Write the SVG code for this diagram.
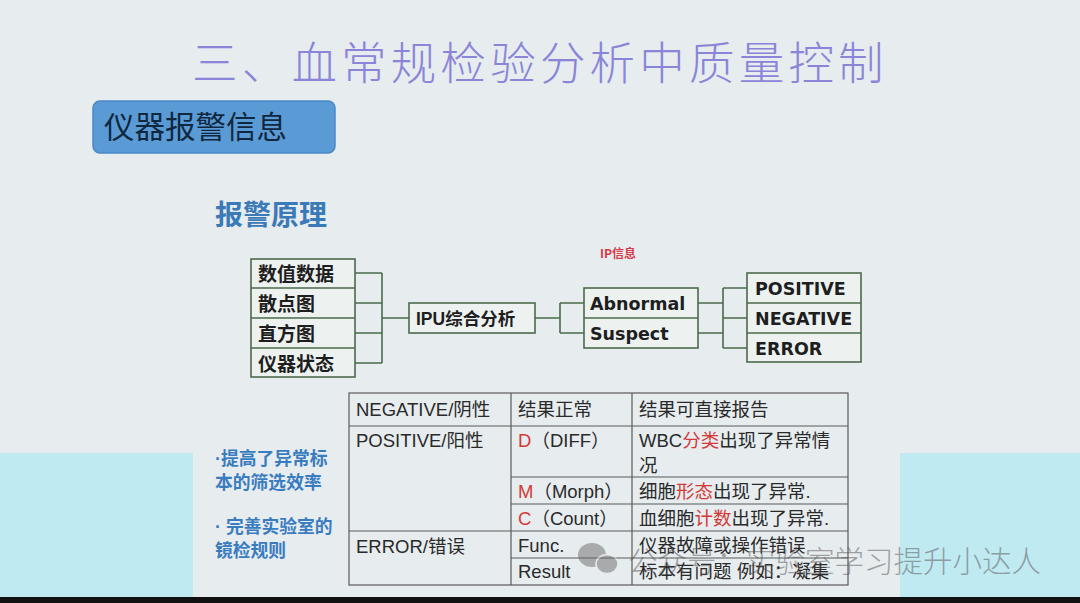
<svg xmlns="http://www.w3.org/2000/svg" width="1080" height="603" viewBox="0 0 1080 603">
<style>
.cjk{font-family:"Noto Sans CJK SC","Liberation Sans",sans-serif}
.box{fill:#edf2f1;stroke:#4b6a4b;stroke-width:1.6}
.bt{font-family:"DejaVu Sans","Noto Sans CJK SC",sans-serif;font-weight:bold;font-size:17.5px;fill:#1e1e1e}
.bc{font-family:"Noto Sans CJK SC",sans-serif;font-weight:bold;font-size:19px;fill:#1e1e1e}
.conn{fill:none;stroke:#4b6a4b;stroke-width:1.6}
.tl{stroke:#5a5a5a;stroke-width:1.2;fill:none}
.tt{font-family:"Liberation Sans","Noto Sans CJK SC",sans-serif;font-size:18.5px;fill:#2a2a2a}
.red{fill:#d23a3a}
.blue{font-family:"Noto Sans CJK SC",sans-serif;font-weight:bold;font-size:17.8px;fill:#3a7cc0}
.dot{font-family:"Liberation Sans",sans-serif}
</style>
<rect x="0" y="0" width="1080" height="603" fill="#e7ecee"/>
<rect x="0" y="453" width="193" height="144" fill="#c0eaf2"/>
<rect x="900" y="453" width="180" height="144" fill="#c0eaf2"/>
<rect x="0" y="597" width="1080" height="6" fill="#111"/>

<g id="title">
<text x="192" y="80" class="cjk" font-size="45.5" font-weight="300" letter-spacing="4.2" fill="#8a85d8">三、血常规检验分析中质量控制</text>
</g>
<g id="section-tag">
<rect x="93" y="101" width="242" height="52" rx="7" fill="#5b9bd5" stroke="#4a88c6" stroke-width="1.5"/>
<text x="104" y="138" class="cjk" font-size="30.5" fill="#10283f">仪器报警信息</text>
</g>
<g id="subtitle">
<text x="215" y="225" class="cjk" font-size="28" font-weight="bold" fill="#3a7ab8">报警原理</text>
</g>
<g id="ip-label">
<text x="600" y="258" class="cjk" font-size="12" font-weight="bold" fill="#d33a48">IP信息</text>
</g>

<g id="connectors">
<path class="conn" d="M355 273H382M355 303H382M355 333H382M355 363H382M382 273V363M382 318H409"/>
<path class="conn" d="M535 318H560M560 303V333M560 303H584M560 333H584"/>
<path class="conn" d="M698 303H723M698 333H723M723 288V348M723 288H747M723 318H747M723 348H747"/>
</g>

<g id="inputs">
<rect class="box" x="251" y="259" width="104" height="118"/>
<path class="conn" d="M251 288H355M251 318H355M251 348H355"/>
<text class="bc" x="258" y="281">数值数据</text>
<text class="bc" x="258" y="311">散点图</text>
<text class="bc" x="258" y="341">直方图</text>
<text class="bc" x="258" y="371">仪器状态</text>
</g>
<g id="ipu">
<rect class="box" x="409" y="303" width="126" height="30"/>
<text x="416" y="325" font-family="Liberation Sans,Noto Sans CJK SC,sans-serif" font-weight="bold" font-size="17.5" fill="#1e1e1e">IPU综合分析</text>
</g>
<g id="ip-info">
<rect class="box" x="584" y="288" width="114" height="60"/>
<path class="conn" d="M584 318H698"/>
<text class="bt" x="590" y="310">Abnormal</text>
<text class="bt" x="590" y="340">Suspect</text>
</g>
<g id="results">
<rect class="box" x="747" y="273" width="114" height="89"/>
<path class="conn" d="M747 303H861M747 333H861"/>
<text class="bt" x="755" y="295">POSITIVE</text>
<text class="bt" x="755" y="325">NEGATIVE</text>
<text class="bt" x="755" y="355">ERROR</text>
</g>

<g id="benefits">
<text class="blue" x="215" y="465"><tspan class="dot">·</tspan>提高了异常标</text>
<text class="blue" x="215" y="489">本的筛选效率</text>
<text class="blue" x="215" y="533"><tspan class="dot">· </tspan>完善实验室的</text>
<text class="blue" x="215" y="557">镜检规则</text>
</g>

<g id="table">
<rect class="tl" x="349" y="393" width="499" height="192" fill="#e9eeef"/>
<path class="tl" d="M511 393V585M632 393V585M349 426H848M511 477H848M511 504H848M349 531H848M511 558H848"/>
<text class="tt" x="356" y="416">NEGATIVE/阴性</text>
<text class="tt" x="356" y="447">POSITIVE/阳性</text>
<text class="tt" x="356" y="553">ERROR/错误</text>
<text class="tt" x="518" y="416">结果正常</text>
<text class="tt" x="518" y="447"><tspan class="red">D</tspan>（DIFF）</text>
<text class="tt" x="518" y="498"><tspan class="red">M</tspan>（Morph）</text>
<text class="tt" x="518" y="525"><tspan class="red">C</tspan>（Count）</text>
<text class="tt" x="518" y="552">Func.</text>
<text class="tt" x="518" y="578">Result</text>
<text class="tt" x="639" y="416">结果可直接报告</text>
<text class="tt" x="639" y="447">WBC<tspan class="red">分类</tspan>出现了异常情</text>
<text class="tt" x="639" y="472">况</text>
<text class="tt" x="639" y="498">细胞<tspan class="red">形态</tspan>出现了异常.</text>
<text class="tt" x="639" y="525">血细胞<tspan class="red">计数</tspan>出现了异常.</text>
<text class="tt" x="639" y="552">仪器故障或操作错误</text>
<text class="tt" x="639" y="578">标本有问题 例如：凝集</text>
</g>

<g id="watermark" opacity="0.5">
<ellipse cx="592" cy="555" rx="14" ry="12" fill="#6a6a6a"/>
<ellipse cx="607" cy="564" rx="11" ry="9.5" fill="#6a6a6a" stroke="#e7ecee" stroke-width="1.5"/>
<text x="628" y="572" class="cjk" font-size="29.5" font-weight="300" fill="#555">公众号：实验室学习提升小达人</text>
</g>
</svg>
